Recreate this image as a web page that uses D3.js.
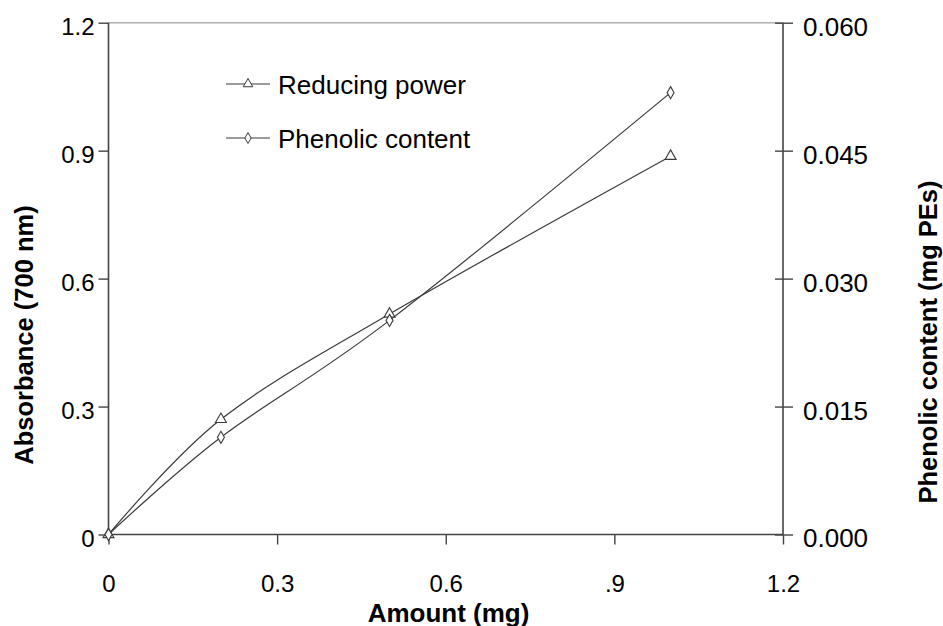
<!DOCTYPE html>
<html>
<head>
<meta charset="utf-8">
<script src="https://cdn.jsdelivr.net/npm/d3@7"></script>
<style>
  html, body { margin: 0; padding: 0; background: #fff; }
  svg { display: block; }
  text { font-family: "Liberation Sans", Arial, Helvetica, sans-serif; fill: #000; }
</style>
</head>
<body>
<svg id="chart" width="943" height="626"></svg>
<script>
// ---- data ----
const amounts = [0, 0.2, 0.5, 1.0];                 // Amount (mg)
const reducingPower = [0, 0.270, 0.517, 0.887];     // Absorbance (700 nm), left axis
const phenolicContent = [0, 0.0114, 0.0251, 0.0518]; // mg PEs, right axis

const xTickValues = [0, 0.3, 0.6, 0.9, 1.2];
const xTickLabels = ["0", "0.3", "0.6", ".9", "1.2"];
const yLeftTickValues = [0, 0.3, 0.6, 0.9, 1.2];
const yLeftTickLabels = ["0", "0.3", "0.6", "0.9", "1.2"];
const yRightTickValues = [0, 0.015, 0.030, 0.045, 0.060];
const yRightTickLabels = ["0.000", "0.015", "0.030", "0.045", "0.060"];

const seriesNames = ["Reducing power", "Phenolic content"];

// ---- layout ----
const pL = 108.5, pR = 783, pT = 22.7, pB = 534.5;
const axisColor = "#444";
const lineColor = "#3a3a3a";

const svg = d3.select("#chart");

const x = d3.scaleLinear().domain([0, 1.2]).range([pL, pR]);
const yL = d3.scaleLinear().domain([0, 1.2]).range([pB, pT]);
const yR = d3.scaleLinear().domain([0, 0.060]).range([pB, pT]);

// top border (light)
svg.append("line")
  .attr("x1", pL).attr("x2", pR).attr("y1", pT).attr("y2", pT)
  .attr("stroke", "#b0b0b0").attr("stroke-width", 1.5);

// x axis
const xAxis = svg.append("g").attr("transform", `translate(0,${pB})`)
  .call(d3.axisBottom(x).tickValues(xTickValues).tickSize(10).tickPadding(30)
    .tickFormat((d, i) => xTickLabels[i]));
// left axis
const yAxisL = svg.append("g").attr("transform", `translate(${pL},0)`)
  .call(d3.axisLeft(yL).tickValues(yLeftTickValues).tickSize(10).tickPadding(4)
    .tickFormat((d, i) => yLeftTickLabels[i]));
// right axis
const yAxisR = svg.append("g").attr("transform", `translate(${pR},0)`)
  .call(d3.axisRight(yR).tickValues(yRightTickValues).tickSize(10).tickPadding(10)
    .tickFormat((d, i) => yRightTickLabels[i]));

[xAxis, yAxisL, yAxisR].forEach(g => {
  g.select(".domain").attr("stroke", axisColor).attr("stroke-width", 1.6);
  g.selectAll(".tick line").attr("stroke", axisColor).attr("stroke-width", 1.4);
  g.selectAll(".tick text")
    .attr("font-family", '"Liberation Sans", Arial, sans-serif').attr("fill", "#000");
});
xAxis.selectAll(".tick text").attr("font-size", 24);
yAxisL.selectAll(".tick text").attr("font-size", 24).attr("dy", "0.48em");
yAxisR.selectAll(".tick text").attr("font-size", 26).attr("dy", "0.48em");
// right axis ticks cross the axis
yAxisR.selectAll(".tick line").attr("x1", -8);
xAxis.select(".domain").attr("d", `M${pL},0H${pR}`);
yAxisL.select(".domain").attr("d", `M0,${pT}V${pB}`);
yAxisR.select(".domain").attr("d", `M0,${pT}V${pB}`);

// axis titles
svg.append("text")
  .attr("x", 448.5).attr("y", 621.5)
  .attr("text-anchor", "middle").attr("font-weight", "bold").attr("font-size", 26)
  .text("Amount (mg)");
svg.append("text")
  .attr("transform", `translate(33,335) rotate(-90)`)
  .attr("text-anchor", "middle").attr("font-weight", "bold").attr("font-size", 25.5)
  .text("Absorbance (700 nm)");
svg.append("text")
  .attr("transform", `translate(937,342) rotate(-90)`)
  .attr("text-anchor", "middle").attr("font-weight", "bold").attr("font-size", 25.5)
  .text("Phenolic content (mg PEs)");

// lines
const curve = d3.curveCardinal.tension(0);
const lineL = d3.line().x((d, i) => x(amounts[i])).y(d => yL(d)).curve(curve);
const lineR = d3.line().x((d, i) => x(amounts[i])).y(d => yR(d)).curve(curve);

svg.append("path").datum(reducingPower).attr("d", lineL)
  .attr("fill", "none").attr("stroke", lineColor).attr("stroke-width", 1.2);
svg.append("path").datum(phenolicContent).attr("d", lineR)
  .attr("fill", "none").attr("stroke", lineColor).attr("stroke-width", 1.2);

const tri = d3.symbol().type(d3.symbolTriangle).size(52);
const dia = d3.symbol().type(d3.symbolDiamond).size(42);

svg.selectAll(".triPt").data(reducingPower).enter().append("path")
  .attr("class", "triPt")
  .attr("transform", (d, i) => `translate(${x(amounts[i])},${yL(d)})`)
  .attr("d", tri).attr("fill", "#fff").attr("stroke", lineColor).attr("stroke-width", 1.1);
svg.selectAll(".diaPt").data(phenolicContent).enter().append("path")
  .attr("class", "diaPt")
  .attr("transform", (d, i) => `translate(${x(amounts[i])},${yR(d)})`)
  .attr("d", dia).attr("fill", "#fff").attr("stroke", lineColor).attr("stroke-width", 1.1);

// legend
const legend = svg.append("g");
const legY = [84, 138];
seriesNames.forEach((name, i) => {
  legend.append("line").attr("x1", 226).attr("x2", 270).attr("y1", legY[i]).attr("y2", legY[i])
    .attr("stroke", lineColor).attr("stroke-width", 1.2);
  legend.append("path").attr("transform", `translate(248,${legY[i]})`)
    .attr("d", d3.symbol().type(i === 0 ? d3.symbolTriangle : d3.symbolDiamond).size(i === 0 ? 40 : 34))
    .attr("fill", "#fff").attr("stroke", lineColor).attr("stroke-width", 1);
  legend.append("text").attr("x", 278).attr("y", legY[i] + 10)
    .attr("font-size", 26).text(name);
});
</script>
</body>
</html>
